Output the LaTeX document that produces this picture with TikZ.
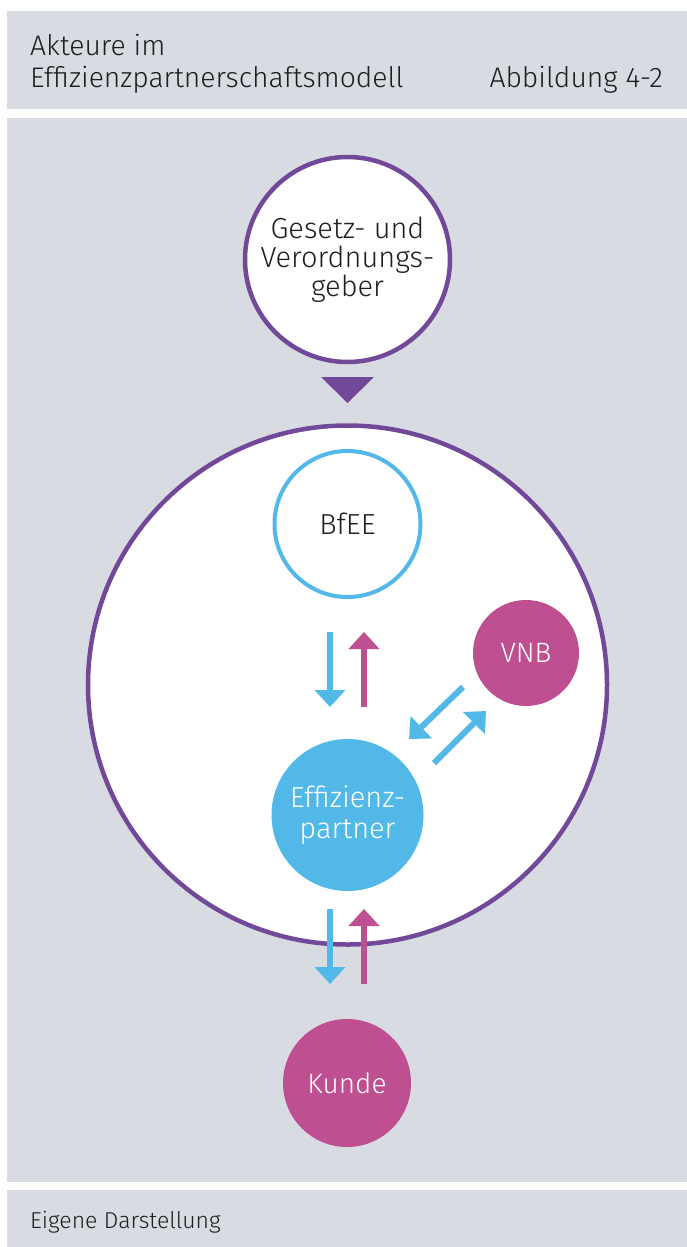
\documentclass[tikz,border=0pt]{standalone}
\usepackage{fontspec}
\setmainfont{Fira Sans Light}
\usetikzlibrary{arrows.meta}
\definecolor{panelgray}{RGB}{216,219,226}
\definecolor{epurple}{RGB}{114,72,152}
\definecolor{eblue}{RGB}{82,184,232}
\definecolor{emagenta}{RGB}{190,80,145}
\definecolor{etext}{RGB}{30,30,30}
\tikzset{
  panel/.style={fill=panelgray, draw=none},
  headtext/.style={inner sep=0pt, text=etext, font=\fontsize{28.3}{32}\selectfont},
  foottext/.style={inner sep=0pt, text=etext, font=\fontsize{23}{26}\selectfont},
  ringnode/.style={circle, inner sep=0pt, fill=white, line width=4.5pt, draw=epurple},
  bluering/.style={circle, inner sep=0pt, fill=white, line width=4pt, draw=eblue, text=etext, font=\fontsize{29}{30}\selectfont},
  bluedisc/.style={circle, inner sep=0pt, fill=eblue, draw=none, text=white, font=\fontsize{29}{31}\selectfont, align=center},
  magdisc/.style={circle, inner sep=0pt, fill=emagenta, draw=none, text=white, font=\fontsize{28}{30}\selectfont},
  flowarrow/.style={line width=6pt, -{Triangle[width=30pt,length=17pt]}},
  bluearrow/.style={flowarrow, draw=eblue},
  magarrow/.style={flowarrow, draw=emagenta},
}
\begin{document}
\begin{tikzpicture}[x=1pt, y=-1pt]
\useasboundingbox (0,0) rectangle (687,1247);
\fill[white] (0,0) rectangle (687,1247);
% panels
\fill[panel] (7,11) rectangle (687,109);
\fill[panel] (7,118) rectangle (687,1182);
\fill[panel] (7,1190) rectangle (687,1247);
% header
\node[headtext, anchor=base west] (t1) at (30,56) {Akteure im};
\node[headtext, anchor=base west] (t2) at (30,87) {Effizienzpartnerschaftsmodell};
\node[headtext, anchor=base east] (t3) at (663,87) {Abbildung 4-2};
% footer
\node[foottext, anchor=base west] (src) at (30,1228) {Eigene Darstellung};
% big circle
\node[ringnode, minimum size=519pt] (market) at (347.5,685) {};
% top circle
\node[ringnode, minimum size=205pt, text=etext, align=center, font=\fontsize{29}{29}\selectfont] (gesetz) at (347.5,259.5) {\raisebox{6pt}{\parbox{185pt}{\centering Gesetz- und\\Verordnungs-\\geber}}};
% triangle
\fill[epurple] (321,377) -- (374,377) -- (347.5,403) -- cycle;
% inner nodes
\node[bluering, minimum size=146pt] (bfee) at (347.5,524) {BfEE};
\node[magdisc, minimum size=106pt] (vnb) at (526,653) {VNB};
\node[bluedisc, minimum size=152pt] (ep) at (347.5,815) {Effizienz-\\partner};
\node[magdisc, minimum size=128pt] (kunde) at (347,1083) {Kunde};
% arrow coordinates
\coordinate (a1s) at (330,632); \coordinate (a1e) at (330,707);
\coordinate (a2s) at (364,707); \coordinate (a2e) at (364,632);
\coordinate (a3s) at (463,687); \coordinate (a3e) at (409,739);
\coordinate (a4s) at (434,763); \coordinate (a4e) at (486,711);
\coordinate (a5s) at (330,909); \coordinate (a5e) at (330,984);
\coordinate (a6s) at (364,984); \coordinate (a6e) at (364,909);
\draw[bluearrow] (a1s) -- (a1e);
\draw[magarrow] (a2s) -- (a2e);
\draw[bluearrow] (a3s) -- (a3e);
\draw[bluearrow] (a4s) -- (a4e);
\draw[bluearrow] (a5s) -- (a5e);
\draw[magarrow] (a6s) -- (a6e);
\end{tikzpicture}
\end{document}
